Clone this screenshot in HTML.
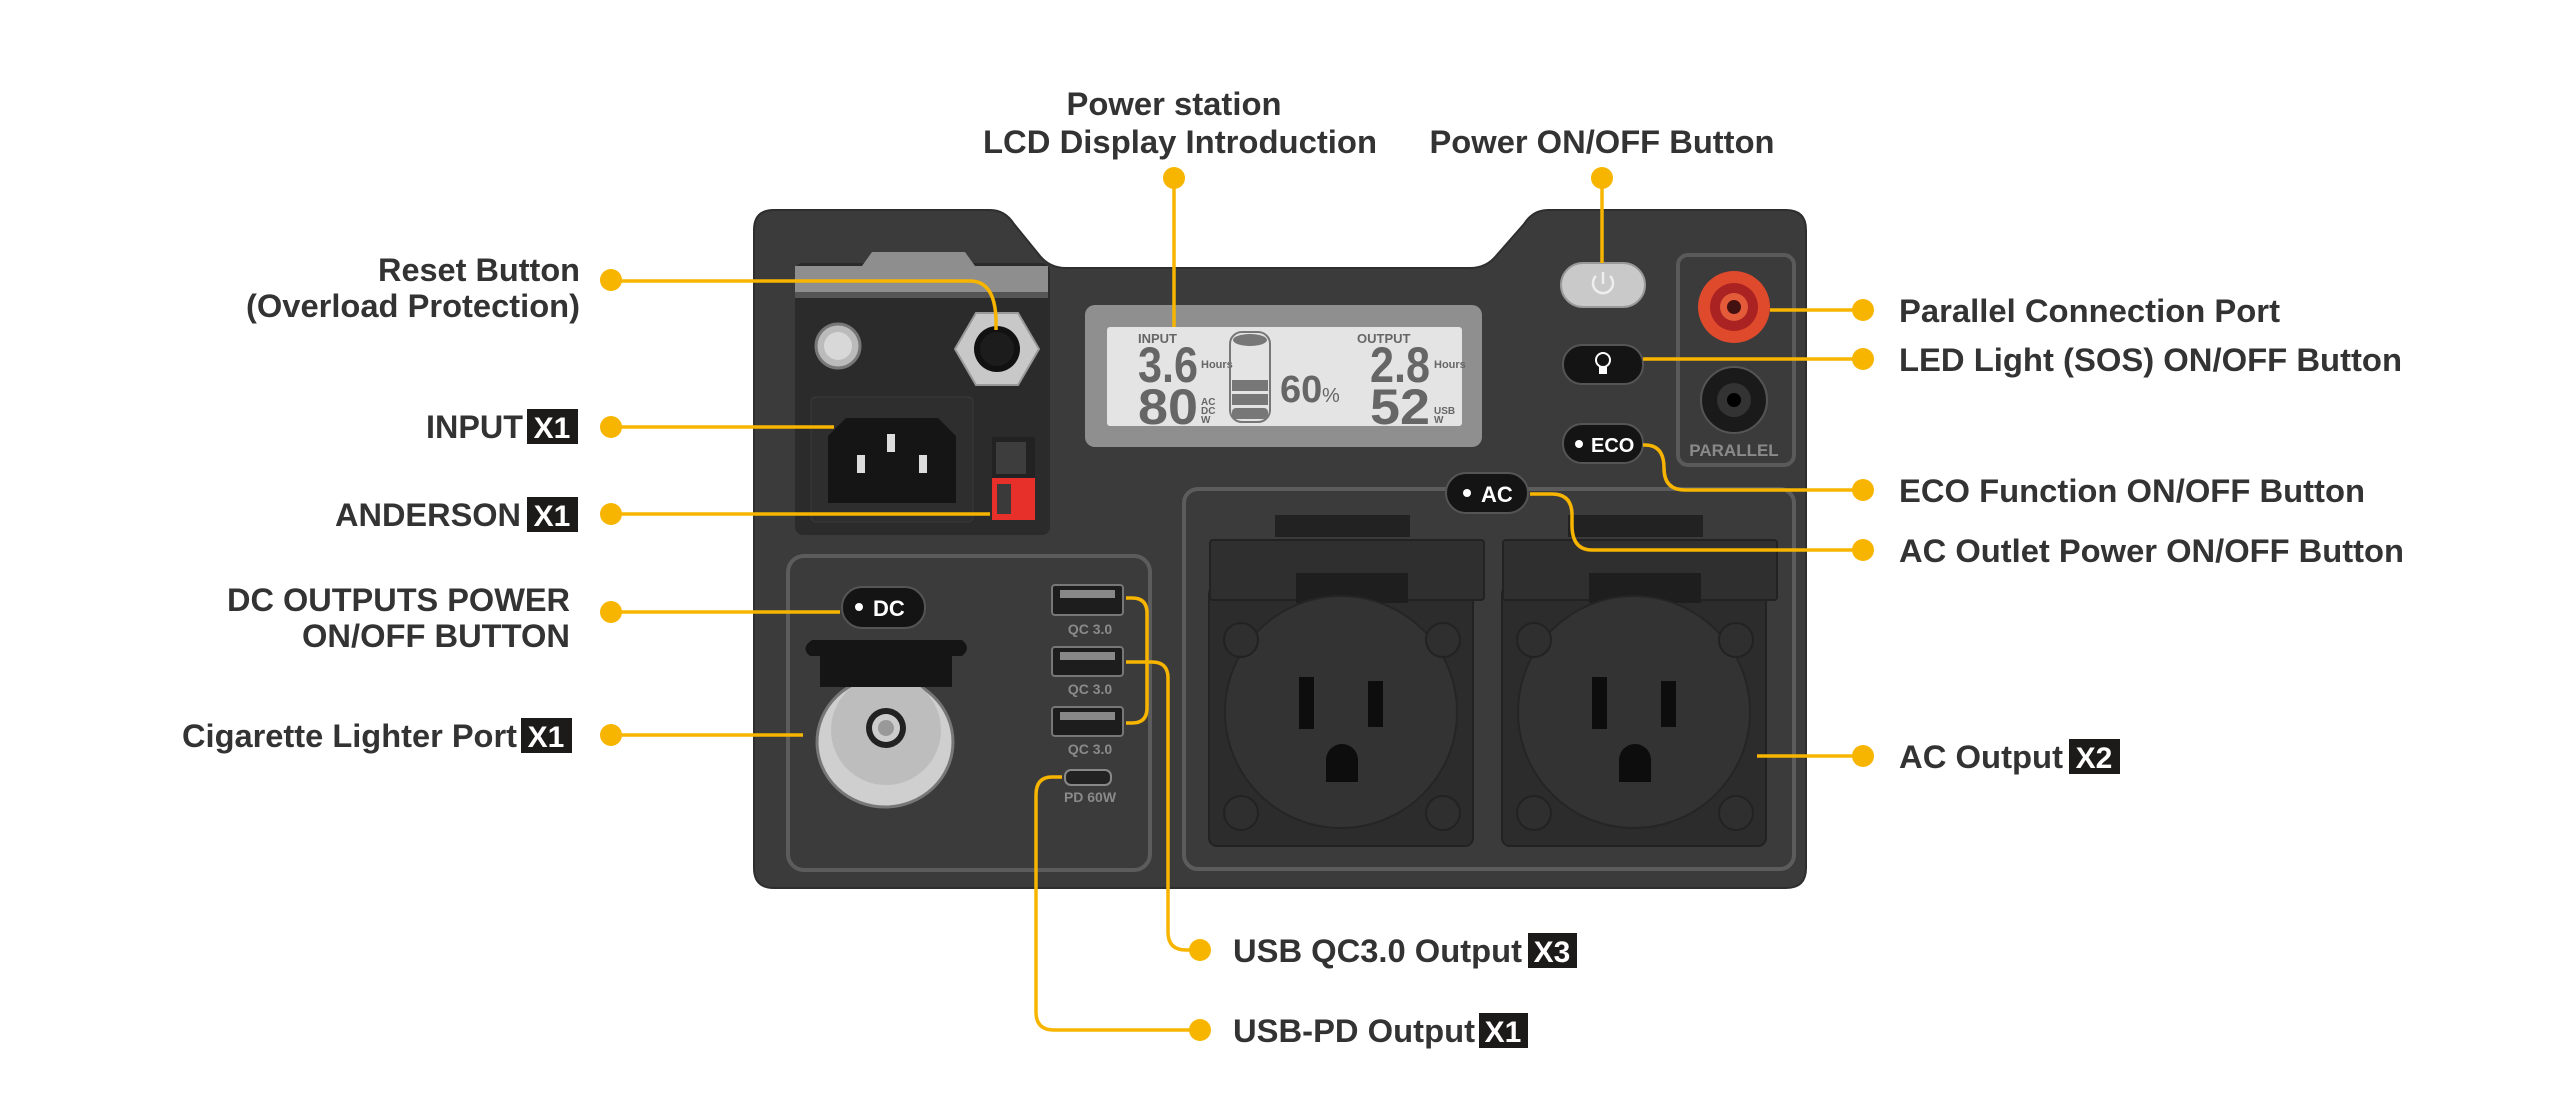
<!DOCTYPE html>
<html><head><meta charset="utf-8"><style>
html,body{margin:0;padding:0;background:#fff;}
svg{display:block;}
.l{font-family:"Liberation Sans",sans-serif;font-weight:bold;font-size:32px;fill:#333;}
.b{font-family:"Liberation Sans",sans-serif;font-weight:bold;font-size:30px;fill:#fff;}
.w{font-family:"Liberation Sans",sans-serif;font-weight:bold;fill:#fff;}
.g{font-family:"Liberation Sans",sans-serif;font-weight:bold;fill:#8a8a8a;}
.lcd{font-family:"Liberation Sans",sans-serif;fill:#666;}
.c{fill:none;stroke:#f7b500;stroke-width:3.5;}
.d{fill:#f7b500;}
</style></head><body>
<svg width="2560" height="1113" viewBox="0 0 2560 1113" xmlns="http://www.w3.org/2000/svg">
<path d="M774 210 H990 Q1005 210 1014 224 L1040 256 Q1050 268 1066 268 H1470 Q1486 268 1496 256 L1524 224 Q1533 210 1548 210 H1786 Q1806 210 1806 230 V868 Q1806 888 1786 888 H774 Q754 888 754 868 V230 Q754 210 774 210 Z" fill="#3b3b3c" stroke="#2e2e2e" stroke-width="2"/>
<rect x="795" y="263" width="255" height="272" rx="8" fill="#2b2b2c"/>
<path d="M795 266 H862 L872 252 H965 L975 266 H1048 V294 H795 Z" fill="#8e8e8e"/>
<rect x="795" y="292" width="253" height="6" fill="#555"/>
<circle cx="838" cy="346" r="22" fill="#bbb" stroke="#777" stroke-width="3"/>
<circle cx="838" cy="346" r="14" fill="#d8d8d8"/>
<polygon points="955,349 976,313 1018,313 1039,349 1018,385 976,385" fill="#c8c8c8" stroke="#999" stroke-width="2"/>
<circle cx="997" cy="349" r="23" fill="#111"/>
<circle cx="997" cy="349" r="17" fill="#1c1c1c"/>
<rect x="811" y="397" width="162" height="125" rx="5" fill="#2e2e2f" stroke="#3a3a3a"/>
<path d="M846 418 H938 L956 436 V503 H828 V436 Z" fill="#151515"/>
<rect x="887" y="434" width="8" height="18" fill="#ddd"/>
<rect x="857" y="455" width="8" height="18" fill="#ddd"/>
<rect x="919" y="455" width="8" height="18" fill="#ddd"/>
<rect x="992" y="437" width="43" height="83" fill="#222"/>
<rect x="996" y="442" width="30" height="32" fill="#3d3d3d"/>
<rect x="992" y="478" width="43" height="42" fill="#e8302a"/>
<rect x="997" y="484" width="14" height="30" fill="#3a3a3a"/>
<rect x="1085" y="305" width="397" height="142" rx="10" fill="#8f8f8f"/>
<rect x="1107" y="327" width="355" height="99" rx="3" fill="#e4e4e4"/>
<text class="lcd" x="1138" y="343" font-size="13" font-weight="bold">INPUT</text>
<text class="lcd" x="1138" y="382" font-size="50" font-weight="bold" textLength="60" lengthAdjust="spacingAndGlyphs">3.6</text>
<text class="lcd" x="1138" y="424" font-size="50" font-weight="bold" textLength="60" lengthAdjust="spacingAndGlyphs">80</text>
<text class="lcd" x="1201" y="368" font-size="11" font-weight="bold">Hours</text>
<text class="lcd" x="1201" y="405" font-size="10" font-weight="bold">AC</text>
<text class="lcd" x="1201" y="414" font-size="10" font-weight="bold">DC</text>
<text class="lcd" x="1201" y="423" font-size="10" font-weight="bold">W</text>
<rect x="1230" y="332" width="40" height="90" rx="12" fill="none" stroke="#777" stroke-width="2"/>
<ellipse cx="1250" cy="340" rx="17" ry="6" fill="#777"/>
<rect x="1232" y="380" width="36" height="11" fill="#777"/><rect x="1232" y="394" width="36" height="11" fill="#777"/><rect x="1232" y="408" width="36" height="11" rx="4" fill="#777"/>
<text class="lcd" x="1280" y="402" font-size="38" font-weight="bold">60</text><text class="lcd" x="1322" y="402" font-size="20">%</text>
<text class="lcd" x="1357" y="343" font-size="13" font-weight="bold">OUTPUT</text>
<text class="lcd" x="1370" y="382" font-size="50" font-weight="bold" textLength="60" lengthAdjust="spacingAndGlyphs">2.8</text>
<text class="lcd" x="1370" y="424" font-size="50" font-weight="bold" textLength="60" lengthAdjust="spacingAndGlyphs">52</text>
<text class="lcd" x="1434" y="368" font-size="11" font-weight="bold">Hours</text>
<text class="lcd" x="1434" y="414" font-size="10" font-weight="bold">USB</text>
<text class="lcd" x="1434" y="423" font-size="10" font-weight="bold">W</text>
<rect x="1561" y="263" width="84" height="44" rx="22" fill="#c9c9c9" stroke="#999" stroke-width="2"/>
<path d="M1596 276 A10 10 0 1 0 1610 276" fill="none" stroke="#eee" stroke-width="2.5"/><line x1="1603" y1="272" x2="1603" y2="284" stroke="#eee" stroke-width="2.5"/>
<rect x="1563" y="345" width="80" height="39" rx="19" fill="#141414" stroke="#555" stroke-width="2"/>
<circle cx="1603" cy="360" r="7" fill="none" stroke="#fff" stroke-width="2"/><rect x="1599" y="367" width="8" height="7" fill="#fff"/>
<rect x="1563" y="424" width="80" height="39" rx="19" fill="#141414" stroke="#555" stroke-width="2"/>
<circle cx="1579" cy="444" r="4" fill="#fff"/><text class="w" x="1591" y="452" font-size="20">ECO</text>
<rect x="1678" y="255" width="116" height="210" rx="10" fill="none" stroke="#5a5a5a" stroke-width="4"/>
<circle cx="1734" cy="307" r="36" fill="#e04a2c"/><circle cx="1734" cy="307" r="24" fill="#a22"/><circle cx="1734" cy="307" r="14" fill="#e45b3a"/><circle cx="1734" cy="307" r="7" fill="#411"/>
<circle cx="1734" cy="400" r="33" fill="#1a1a1a" stroke="#555" stroke-width="2"/><circle cx="1734" cy="400" r="17" fill="#333"/><circle cx="1734" cy="400" r="7" fill="#000"/>
<text class="g" x="1734" y="456" font-size="17" text-anchor="middle" fill="#888">PARALLEL</text>
<rect x="788" y="556" width="362" height="314" rx="16" fill="none" stroke="#5c5c5c" stroke-width="4"/>
<rect x="842" y="587" width="83" height="41" rx="20" fill="#141414" stroke="#555" stroke-width="2"/>
<circle cx="859" cy="607" r="4" fill="#fff"/><text class="w" x="873" y="616" font-size="22">DC</text>
<ellipse cx="885" cy="742" rx="68" ry="65" fill="#cfcfcf" stroke="#777" stroke-width="3"/>
<circle cx="886" cy="730" r="55" fill="#bdbdbd"/>
<circle cx="886" cy="728" r="20" fill="#222"/><circle cx="886" cy="728" r="14" fill="#ccc"/><circle cx="886" cy="728" r="8" fill="#999"/>
<path d="M812 640 H962 Q972 648 962 656 H952 V687 H820 V656 H810 Q800 648 812 640 Z" fill="#151515"/>
<rect x="1052" y="585" width="71" height="30" rx="3" fill="#1d1d1d" stroke="#777" stroke-width="2"/><rect x="1060" y="590" width="55" height="8" fill="#888"/>
<rect x="1052" y="647" width="71" height="29" rx="3" fill="#1d1d1d" stroke="#777" stroke-width="2"/><rect x="1060" y="652" width="55" height="8" fill="#888"/>
<rect x="1052" y="707" width="71" height="29" rx="3" fill="#1d1d1d" stroke="#777" stroke-width="2"/><rect x="1060" y="712" width="55" height="8" fill="#888"/>
<text class="g" x="1090" y="634" font-size="14" text-anchor="middle">QC 3.0</text>
<text class="g" x="1090" y="694" font-size="14" text-anchor="middle">QC 3.0</text>
<text class="g" x="1090" y="754" font-size="14" text-anchor="middle">QC 3.0</text>
<rect x="1065" y="770" width="46" height="15" rx="6" fill="#222" stroke="#888" stroke-width="2"/>
<text class="g" x="1090" y="802" font-size="14" text-anchor="middle">PD 60W</text>
<rect x="1184" y="489" width="610" height="380" rx="14" fill="none" stroke="#5c5c5c" stroke-width="4"/>
<g id="o1">
<rect x="1209" y="586" width="264" height="260" rx="8" fill="#2c2c2d" stroke="#222" stroke-width="2"/>
<rect x="1210" y="540" width="274" height="60" rx="3" fill="#2f2f30" stroke="#222" stroke-width="2"/>
<rect x="1275" y="515" width="135" height="22" fill="#222"/>
<rect x="1296" y="573" width="112" height="30" fill="#1e1e1e"/>
<circle cx="1341" cy="712" r="116" fill="#333334" stroke="#252525" stroke-width="2"/>
<circle cx="1241" cy="640" r="17" fill="#2f2f30" stroke="#222" stroke-width="2"/>
<circle cx="1443" cy="640" r="17" fill="#2f2f30" stroke="#222" stroke-width="2"/>
<circle cx="1241" cy="813" r="17" fill="#2f2f30" stroke="#222" stroke-width="2"/>
<circle cx="1443" cy="813" r="17" fill="#2f2f30" stroke="#222" stroke-width="2"/>
<rect x="1299" y="677" width="15" height="52" fill="#0d0d0d"/>
<rect x="1368" y="681" width="15" height="46" fill="#0d0d0d"/>
<path d="M1326 782 V760 A16 16 0 0 1 1358 760 V782 Z" fill="#0d0d0d"/>
</g>
<use href="#o1" transform="translate(293,0)"/>
<rect x="1446" y="473" width="82" height="40" rx="20" fill="#141414" stroke="#555" stroke-width="2"/>
<circle cx="1467" cy="493" r="4" fill="#fff"/><text class="w" x="1481" y="502" font-size="22">AC</text>
<path class="c" d="M611 281 H970 Q995 281 996 320 V330"/>
<path class="c" d="M611 427 H834"/>
<path class="c" d="M611 514 H990"/>
<path class="c" d="M611 612 H840"/>
<path class="c" d="M611 735 H803"/>
<path class="c" d="M1174 178 V327"/>
<path class="c" d="M1602 178 V263"/>
<path class="c" d="M1863 310 H1770"/>
<path class="c" d="M1863 359 H1643"/>
<path class="c" d="M1863 490 H1685 Q1664 490 1664 468 Q1664 445 1645 445 H1643"/>
<path class="c" d="M1863 550 H1592 Q1572 550 1572 525 V515 Q1572 494 1552 494 H1530"/>
<path class="c" d="M1863 756 H1757"/>
<path class="c" d="M1126 598 H1132 Q1147 598 1147 613 V708 Q1147 723 1132 723 H1126"/>
<path class="c" d="M1126 662 H1152 Q1168 662 1168 678 V932 Q1168 950 1186 950 H1200"/>
<path class="c" d="M1062 777 H1052 Q1036 777 1036 795 V1012 Q1036 1030 1054 1030 H1200"/>
<g class="d">
<circle cx="611" cy="280" r="11"/><circle cx="611" cy="427" r="11"/><circle cx="611" cy="514" r="11"/><circle cx="611" cy="612" r="11"/><circle cx="611" cy="735" r="11"/>
<circle cx="1174" cy="178" r="11"/><circle cx="1602" cy="178" r="11"/>
<circle cx="1863" cy="310" r="11"/><circle cx="1863" cy="359" r="11"/><circle cx="1863" cy="490" r="11"/><circle cx="1863" cy="550" r="11"/><circle cx="1863" cy="756" r="11"/>
<circle cx="1200" cy="950" r="11"/><circle cx="1200" cy="1030" r="11"/>
</g>
<text class="l" x="580" y="281" text-anchor="end" textLength="202" lengthAdjust="spacingAndGlyphs">Reset Button</text>
<text class="l" x="580" y="317" text-anchor="end" textLength="334" lengthAdjust="spacingAndGlyphs">(Overload Protection)</text>
<text class="l" x="523" y="438" text-anchor="end" textLength="97" lengthAdjust="spacingAndGlyphs">INPUT</text>
<rect x="527" y="409" width="51" height="35" fill="#1d1a1a"/><text class="b" x="552" y="438" text-anchor="middle">X1</text>
<text class="l" x="521" y="526" text-anchor="end" textLength="186" lengthAdjust="spacingAndGlyphs">ANDERSON</text>
<rect x="527" y="497" width="51" height="35" fill="#1d1a1a"/><text class="b" x="552" y="526" text-anchor="middle">X1</text>
<text class="l" x="570" y="611" text-anchor="end" textLength="343" lengthAdjust="spacingAndGlyphs">DC OUTPUTS POWER</text>
<text class="l" x="570" y="647" text-anchor="end" textLength="268" lengthAdjust="spacingAndGlyphs">ON/OFF BUTTON</text>
<text class="l" x="517" y="747" text-anchor="end" textLength="335" lengthAdjust="spacingAndGlyphs">Cigarette Lighter Port</text>
<rect x="521" y="718" width="51" height="35" fill="#1d1a1a"/><text class="b" x="546" y="747" text-anchor="middle">X1</text>
<text class="l" x="1174" y="115" text-anchor="middle" textLength="215" lengthAdjust="spacingAndGlyphs">Power station</text>
<text class="l" x="1180" y="153" text-anchor="middle" textLength="394" lengthAdjust="spacingAndGlyphs">LCD Display Introduction</text>
<text class="l" x="1602" y="153" text-anchor="middle" textLength="345" lengthAdjust="spacingAndGlyphs">Power ON/OFF Button</text>
<text class="l" x="1899" y="322" textLength="381" lengthAdjust="spacingAndGlyphs">Parallel Connection Port</text>
<text class="l" x="1899" y="371" textLength="503" lengthAdjust="spacingAndGlyphs">LED Light (SOS) ON/OFF Button</text>
<text class="l" x="1899" y="502" textLength="466" lengthAdjust="spacingAndGlyphs">ECO Function ON/OFF Button</text>
<text class="l" x="1899" y="562" textLength="505" lengthAdjust="spacingAndGlyphs">AC Outlet Power ON/OFF Button</text>
<text class="l" x="1899" y="768" textLength="164" lengthAdjust="spacingAndGlyphs">AC Output</text>
<rect x="2069" y="739" width="51" height="35" fill="#1d1a1a"/><text class="b" x="2094" y="768" text-anchor="middle">X2</text>
<text class="l" x="1233" y="962" textLength="289" lengthAdjust="spacingAndGlyphs">USB QC3.0 Output</text>
<rect x="1528" y="933" width="49" height="35" fill="#1d1a1a"/><text class="b" x="1552" y="962" text-anchor="middle">X3</text>
<text class="l" x="1233" y="1042" textLength="242" lengthAdjust="spacingAndGlyphs">USB-PD Output</text>
<rect x="1479" y="1013" width="49" height="35" fill="#1d1a1a"/><text class="b" x="1503" y="1042" text-anchor="middle">X1</text>
</svg>
</body></html>
